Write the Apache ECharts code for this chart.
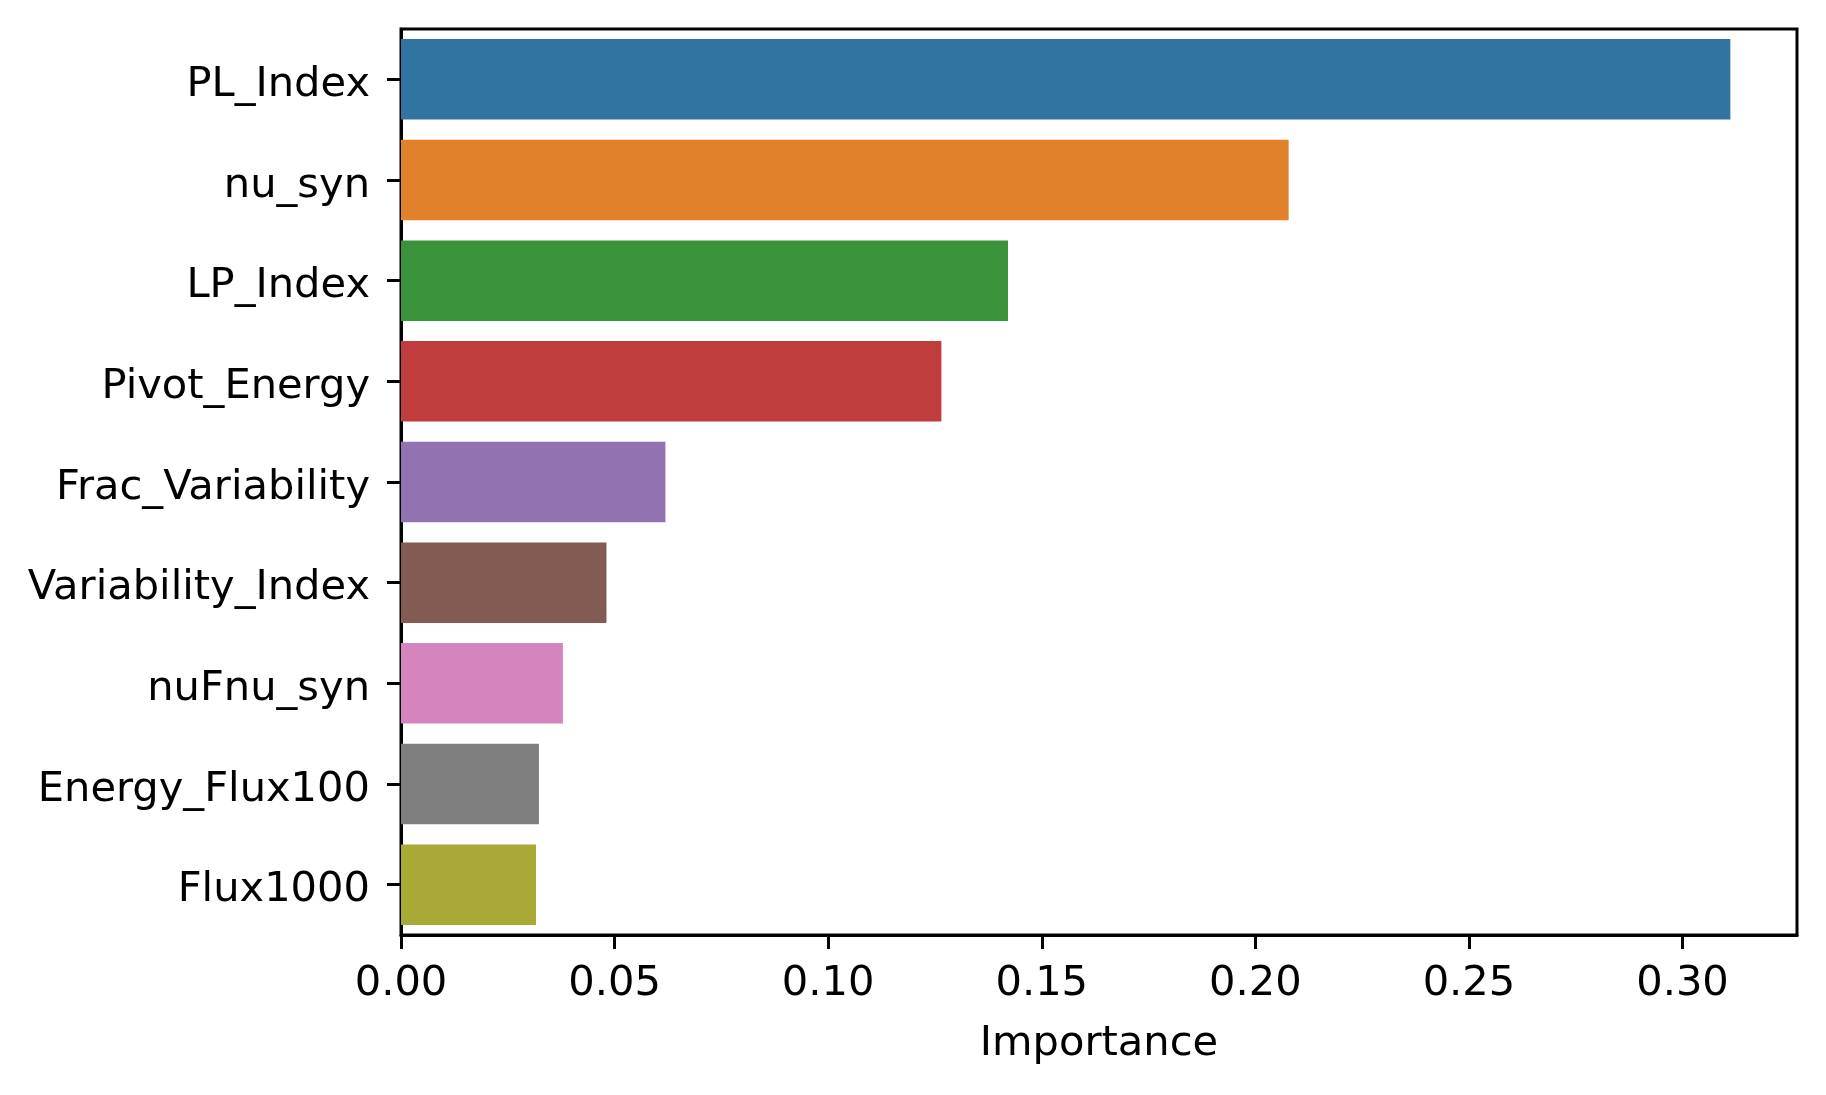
<!DOCTYPE html>
<html>
<head>
<meta charset="utf-8">
<script src="https://cdn.jsdelivr.net/npm/echarts@6/dist/echarts.min.js"></script>
<style>
html,body{margin:0;padding:0;background:#fff;}
#chart{width:1826px;height:1095px;}
</style>
</head>
<body>
<div id="chart"></div>
<script>
const categories = ["PL_Index","nu_syn","LP_Index","Pivot_Energy","Frac_Variability","Variability_Index","nuFnu_syn","Energy_Flux100","Flux1000"];
const importance = [0.3112, 0.2078, 0.1421, 0.1265, 0.0619, 0.0481, 0.0379, 0.0323, 0.0316];
const barColors = ["#3274a1","#e1812c","#3a923a","#c03d3e","#9372b2","#845b53","#d684bd","#7f7f7f","#a9aa35"];
const xTicks = [0, 0.05, 0.10, 0.15, 0.20, 0.25, 0.30];
const xMax = 0.3268;

const FONT = "DejaVu Sans";
const FS = 41.6;
const chart = echarts.init(document.getElementById('chart'), null, {renderer:'canvas'});
chart.setOption({
  animation: false,
  backgroundColor: '#fff',
  textStyle: {fontFamily: FONT},
  grid: {left: 401, right: 29, top: 29, bottom: 160, show: true, borderColor: '#000', borderWidth: 3, backgroundColor: 'transparent'},
  xAxis: {
    type: 'value', min: 0, max: xMax,
    name: 'Importance', nameLocation: 'middle', nameGap: 88,
    nameTextStyle: {fontFamily: FONT, fontSize: FS, color: '#000'},
    splitLine: {show: false},
    axisLine: {show: true, lineStyle: {color: '#000', width: 3}},
    axisTick: {show: true, length: 14, lineStyle: {color: '#000', width: 3}, customValues: xTicks},
    axisLabel: {fontFamily: FONT, fontSize: FS, color: '#000', margin: 28, customValues: xTicks,
      formatter: v => v.toFixed(2)}
  },
  yAxis: {
    type: 'category', data: categories, inverse: true,
    axisLine: {show: true, lineStyle: {color: '#000', width: 3}},
    axisTick: {show: true, length: 14, alignWithLabel: true, lineStyle: {color: '#000', width: 3}},
    axisLabel: {
      color: '#000', margin: 31, verticalAlign: 'middle',
      formatter: v => '{t|' + v + '}',
      rich: {t: {fontFamily: FONT, fontSize: FS, color: '#000', padding: [12, 0, 0, 0]}}
    }
  },
  series: [{
    type: 'bar',
    data: importance.map((v, i) => ({value: v, itemStyle: {color: barColors[i]}})),
    barCategoryGap: '20%'
  }]
});
</script>
</body>
</html>
